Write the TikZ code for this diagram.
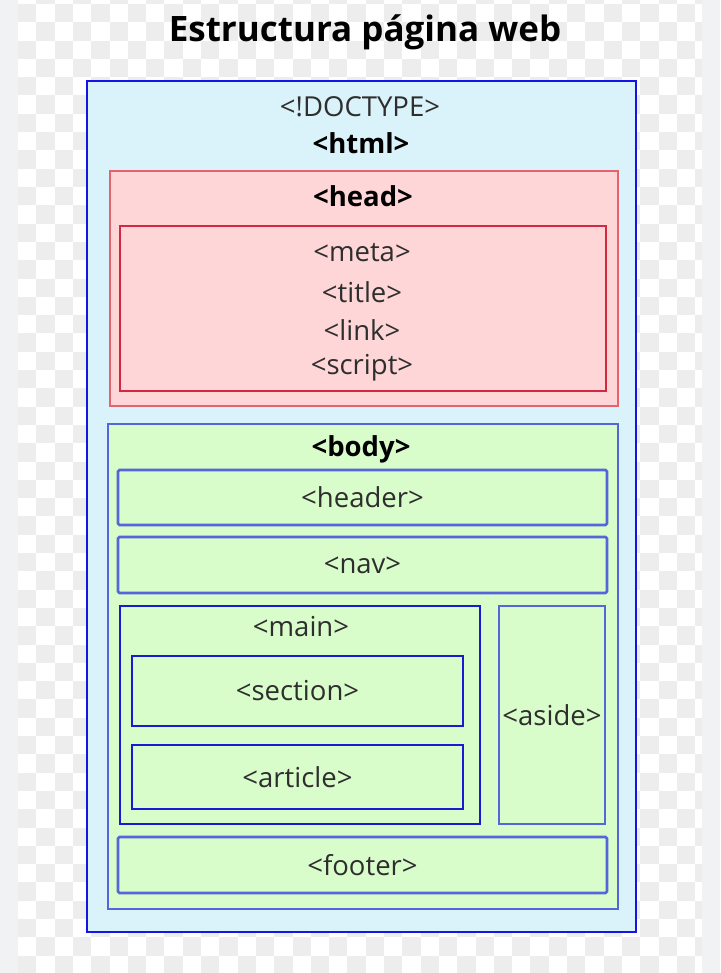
\documentclass[tikz,border=0pt]{standalone}
\usepackage{fontspec}
\setmainfont{Open Sans}
\definecolor{pagegray}{HTML}{F1F2F4}
\definecolor{checkgray}{HTML}{EDEDED}
\definecolor{htmlfill}{HTML}{DAF2FA}
\definecolor{htmlline}{HTML}{1414E6}
\definecolor{headfill}{HTML}{FFD6D7}
\definecolor{headline}{HTML}{E3636E}
\definecolor{metaline}{HTML}{D42842}
\definecolor{bodyfill}{HTML}{D9FDCA}
\definecolor{softline}{HTML}{5566DD}
\definecolor{darkline}{HTML}{1A1AD2}
\definecolor{tagtext}{HTML}{2E2E2E}
\begin{document}
\begin{tikzpicture}[x=1pt,y=-1pt,
  box/.style={rectangle,inner sep=0pt,minimum width=#1},
  softbox/.style={box=#1,draw=softline,line width=2.6pt,fill=bodyfill,rounded corners=1.5pt,
    font=\fontsize{27.5}{30}\selectfont,text=tagtext},
  darkbox/.style={box=#1,draw=darkline,line width=1.8pt,fill=bodyfill,
    font=\fontsize{27.5}{30}\selectfont,text=tagtext},
  tag/.style={font=\fontsize{27.5}{30}\selectfont,text=tagtext,inner sep=0pt},
  bigtag/.style={font=\fontsize{27.5}{30}\selectfont\bfseries,inner sep=0pt}]
  % background with transparency checks
  \fill[pagegray] (0,0) rectangle (720,973);
  \fill[white] (18,0) rectangle (702,973);
  \begin{scope}
    \clip (18,0) rectangle (702,973);
    \foreach \i in {0,...,37}
      \foreach \j in {0,...,53} {
        \pgfmathparse{int(mod(\i+\j,2))}
        \ifnum\pgfmathresult=1
          \fill[checkgray] ({18+18.3*\i},{-14.3+18.3*\j}) rectangle +(18.3,18.3);
        \fi
      }
  \end{scope}
  \node[font=\fontsize{35}{38}\selectfont\bfseries] (title) at (365,32) {Estructura página web};

  % html
  \node[box=549pt,minimum height=851pt,draw=htmlline,line width=1.8pt,fill=htmlfill] (html) at (361.5,506.5) {};
  \node[tag] (doctype) at (360,107) {<!DOCTYPE>};
  \node[bigtag] (htmltag) at (361,143) {<html>};

  % head
  \node[box=508pt,minimum height=235pt,draw=headline,line width=2pt,fill=headfill] (head) at (364,288.5) {};
  \node[bigtag] (headtag) at (363,196) {<head>};
  \node[box=486pt,minimum height=165pt,draw=metaline,line width=1.4pt] (headlist) at (363,308.5) {};
  \node[tag] (meta) at (362,253) {<meta>};
  \node[tag] (titletag) at (362,292) {<title>};
  \node[tag] (link) at (362,330) {<link>};
  \node[tag] (script) at (362,368) {<script>};

  % body
  \node[box=510pt,minimum height=485pt,draw=softline,line width=2.2pt,fill=bodyfill] (body) at (363,666.5) {};
  \node[bigtag] (bodytag) at (361,449) {<body>};
  \node[softbox=489pt,minimum height=55pt] (header) at (362.5,497.5) {<header>};
  \node[softbox=489pt,minimum height=56pt] (nav) at (362.5,565) {<nav>};
  \node[darkbox=360pt,minimum height=218pt] (main) at (300,715) {};
  \node[tag] (maintag) at (301,627) {<main>};
  \node[darkbox=331pt,minimum height=70pt] (section) at (297.5,691) {<section>};
  \node[darkbox=331pt,minimum height=64pt] (article) at (297.5,777) {<article>};
  \node[softbox=106pt,minimum height=218pt,rounded corners=0pt] (aside) at (552,715) {<aside>};
  \node[softbox=489pt,minimum height=56pt] (footer) at (362.5,865) {<footer>};
\end{tikzpicture}
\end{document}
